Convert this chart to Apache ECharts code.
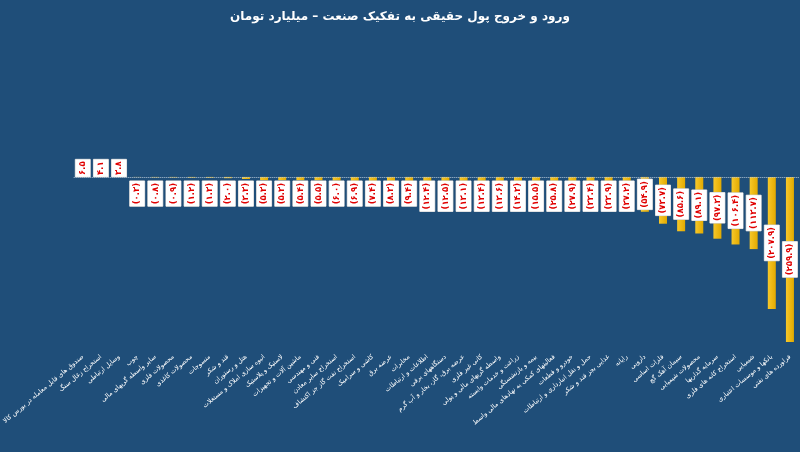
<!DOCTYPE html>
<html>
<head>
<meta charset="utf-8">
<script src="https://cdn.jsdelivr.net/npm/echarts@6/dist/echarts.min.js"></script>
<style>
html,body{margin:0;padding:0;background:#1f4e79;}
#main{width:800px;height:452px;}
#tag{position:absolute;left:4px;top:4px;background:#fff;color:#000;font:bold 9px "DejaVu Sans";padding:2px 4px;border-radius:2px;}
</style>
</head>
<body>
<div id="tag">✈ @Karafarinbk_ir</div>
<div id="main"></div>
<script>
// دسته ها
var categories = [
  'صندوق های قابل معامله در بورس کالا', 'استخراج زغال سنگ', 'وسایل ارتباطی', 'چوب',
  'سایر واسطه گریهای مالی', 'محصولات فلزی', 'محصولات کاغذی', 'منسوجات', 'قند و شکر',
  'هتل و رستوران', 'انبوه سازی املاک و مستغلات', 'لاستیک و پلاستیک', 'ماشین آلات و تجهیزات',
  'فنی و مهندسی', 'استخراج سایر معادن', 'استخراج نفت گاز جز اکتشاف', 'کاشی و سرامیک',
  'عرضه برق', 'مخابرات', 'اطلاعات و ارتباطات', 'دستگاههای برقی', 'عرضه برق، گاز، بخار و آب گرم',
  'کانی غیر فلزی', 'واسطه گریهای مالی و پولی', 'زراعت و خدمات وابسته', 'بیمه و بازنشستگی',
  'فعالیتهای کمکی به نهادهای مالی واسط', 'خودرو و قطعات', 'حمل و نقل انبارداری و ارتباطات',
  'غذایی بجز قند و شکر', 'رایانه', 'دارویی', 'فلزات اساسی', 'سیمان آهک گچ', 'محصولات شیمیایی',
  'سرمایه گذاریها', 'استخراج کانه های فلزی', 'شیمیایی', 'بانکها و موسسات اعتباری', 'فراورده های نفتی'
];
// ارزش ورود/خروج پول حقیقی (میلیارد تومان)
var values = [
  6.5, 4.1, 3.8, -0.3, -0.8, -0.9, -1.2, -1.3, -2.0, -3.3, -5.3, -5.3, -5.4, -5.5,
  -6.0, -6.9, -7.4, -8.3, -9.4, -12.4, -12.5, -13.1, -13.4, -13.6, -14.3, -15.5,
  -25.8, -27.9, -33.4, -33.9, -37.2, -54.9, -73.7, -85.6, -89.1, -97.3, -106.4, -113.7,
  -207.9, -259.9
];

function fa(v) {
  var s = Math.abs(v).toFixed(1).replace(/\d/g, function(d){ return '۰۱۲۳۴۵۶۷۸۹'[d]; });
  return v < 0 ? '(' + s + ')' : s;
}

var barData = values.map(function(v) {
  if (v > 0) return { value: v, label: { position: 'insideBottom', align: 'left', distance: 0 } };
  if (v > -50) return { value: v, label: { position: 'insideTop', align: 'right', distance: 4 } };
  return { value: v, label: { position: 'inside', align: 'center' } };
});

var myChart = echarts.init(document.getElementById('main'));
var option = {
  backgroundColor: '#1f4e79',
  title: {
    text: 'ورود و خروج پول حقیقی به تفکیک صنعت – میلیارد تومان',
    left: 'center', top: 6,
    textStyle: { color: '#fff', fontSize: 12, fontWeight: 'bold', fontFamily: 'DejaVu Sans' }
  },
  grid: { left: 47, right: 1, top: 22, bottom: 110 },
  xAxis: {
    type: 'category',
    data: categories,
    axisLine: { show: false },
    axisTick: { show: false },
    axisLabel: {
      color: '#fff', fontSize: 6.5, rotate: 40, interval: 0, margin: 14,
      fontFamily: 'DejaVu Sans'
    }
  },
  yAxis: { type: 'value', min: -260, max: 244, show: false, splitLine: { show: false } },
  series: [{
    type: 'bar',
    data: barData,
    barWidth: 8,
    itemStyle: {
      color: new echarts.graphic.LinearGradient(0, 0, 1, 0, [
        { offset: 0, color: '#f7c82a' }, { offset: 1, color: '#e2aa00' }
      ])
    },
    label: {
      show: true,
      rotate: 90,
      verticalAlign: 'middle',
      formatter: function(p) { return fa(p.value); },
      color: '#e00000',
      fontSize: 8.5,
      fontWeight: 'bold',
      fontFamily: 'DejaVu Sans',
      backgroundColor: '#fff',
      padding: [3, 2],
      borderColor: '#ccc',
      borderWidth: 0.5
    },
    markLine: {
      silent: true,
      symbol: 'none',
      label: { show: false },
      lineStyle: { color: '#b8c8d8', type: 'dotted', width: 1 },
      data: [{ yAxis: 0 }]
    }
  }]
};
myChart.setOption(option);
</script>
</body>
</html>
